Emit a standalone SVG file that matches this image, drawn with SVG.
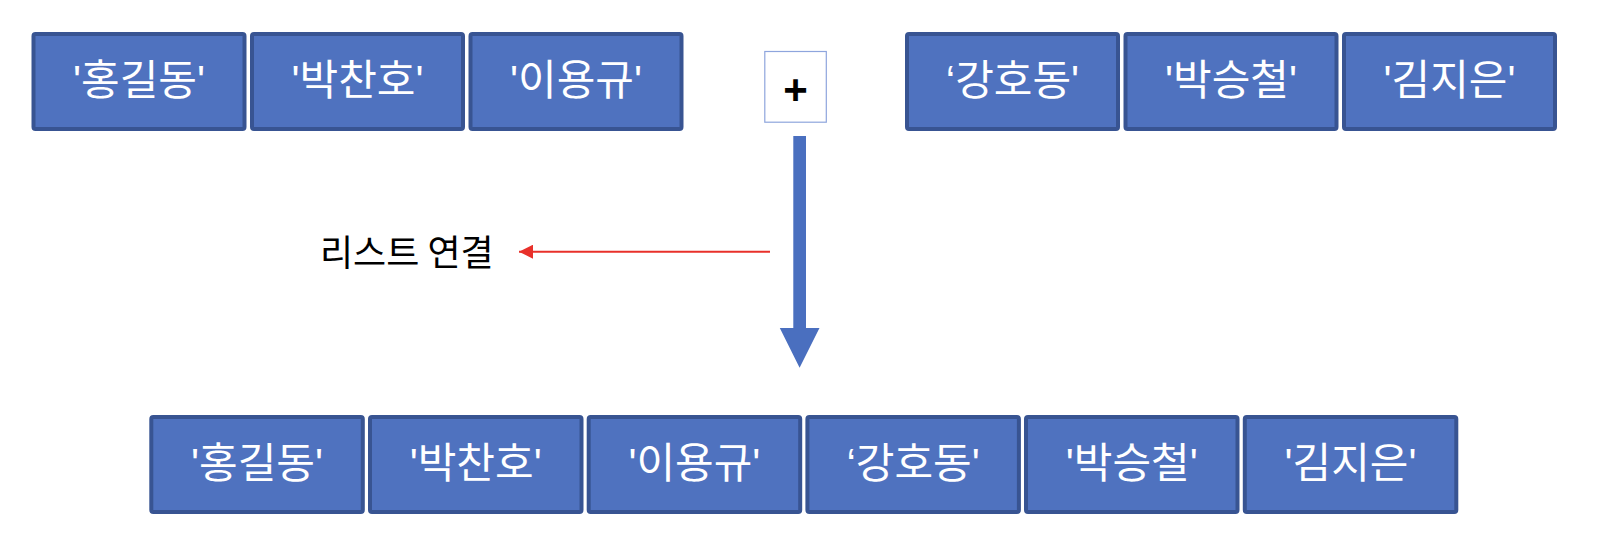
<svg xmlns="http://www.w3.org/2000/svg" width="1606" height="534" viewBox="0 0 1606 534">
<defs>
<style>
.box rect{fill:#4F72BF;stroke:#385492;stroke-width:4}
.box text{fill:#FFFFFF;font-family:"Liberation Sans","Noto Sans CJK KR",sans-serif;font-size:42px;text-anchor:middle}
.lbl{fill:#000;font-family:"Noto Sans CJK KR",sans-serif;font-size:36px}
</style>
<marker id="redHead" markerWidth="14" markerHeight="14" refX="14" refY="7" orient="auto" markerUnits="userSpaceOnUse">
<path d="M0,0 L14,7 L0,14 Z" fill="#E8302A"/>
</marker>
</defs>
<rect width="1606" height="534" fill="#FFFFFF"/>
<g id="top1" class="box"><rect x="33.5" y="34" width="211" height="95" rx="2"/><text x="139" y="95">'홍길동'</text></g>
<g id="top2" class="box"><rect x="252" y="34" width="211" height="95" rx="2"/><text x="357.5" y="95">'박찬호'</text></g>
<g id="top3" class="box"><rect x="470.5" y="34" width="211" height="95" rx="2"/><text x="576" y="95">'이용규'</text></g>
<g id="top4" class="box"><rect x="907" y="34" width="211" height="95" rx="2"/><text x="1012.5" y="95">‘강호동'</text></g>
<g id="top5" class="box"><rect x="1125.5" y="34" width="211" height="95" rx="2"/><text x="1231" y="95">'박승철'</text></g>
<g id="top6" class="box"><rect x="1344" y="34" width="211" height="95" rx="2"/><text x="1449.5" y="95">'김지은'</text></g>
<g id="plus"><rect x="764.8" y="51.5" width="61.5" height="70.7" fill="#FFFFFF" stroke="#8EA5DD" stroke-width="1.2"/><text x="795.5" y="103.5" font-family="Liberation Sans, sans-serif" font-size="42" font-weight="bold" text-anchor="middle" fill="#000">+</text></g>
<g id="bot1" class="box"><rect x="151.3" y="417" width="211.5" height="95" rx="2"/><text x="257" y="478">'홍길동'</text></g>
<g id="bot2" class="box"><rect x="370" y="417" width="211.5" height="95" rx="2"/><text x="475.7" y="478">'박찬호'</text></g>
<g id="bot3" class="box"><rect x="588.7" y="417" width="211.5" height="95" rx="2"/><text x="694.4" y="478">'이용규'</text></g>
<g id="bot4" class="box"><rect x="807.4" y="417" width="211.5" height="95" rx="2"/><text x="913.1" y="478">‘강호동'</text></g>
<g id="bot5" class="box"><rect x="1026" y="417" width="211.5" height="95" rx="2"/><text x="1131.8" y="478">'박승철'</text></g>
<g id="bot6" class="box"><rect x="1244.8" y="417" width="211.5" height="95" rx="2"/><text x="1350.5" y="478">'김지은'</text></g>
<g id="connectors">
<path d="M793.3,136 H806 V328 H819.5 L799.6,367.7 L779.8,328 H793.3 Z" fill="#4A6FBF"/>
<line x1="770" y1="251.7" x2="519" y2="251.7" stroke="#E8302A" stroke-width="2" marker-end="url(#redHead)"/>
</g>
<text class="lbl" x="320" y="266">리스트 연결</text>
</svg>
